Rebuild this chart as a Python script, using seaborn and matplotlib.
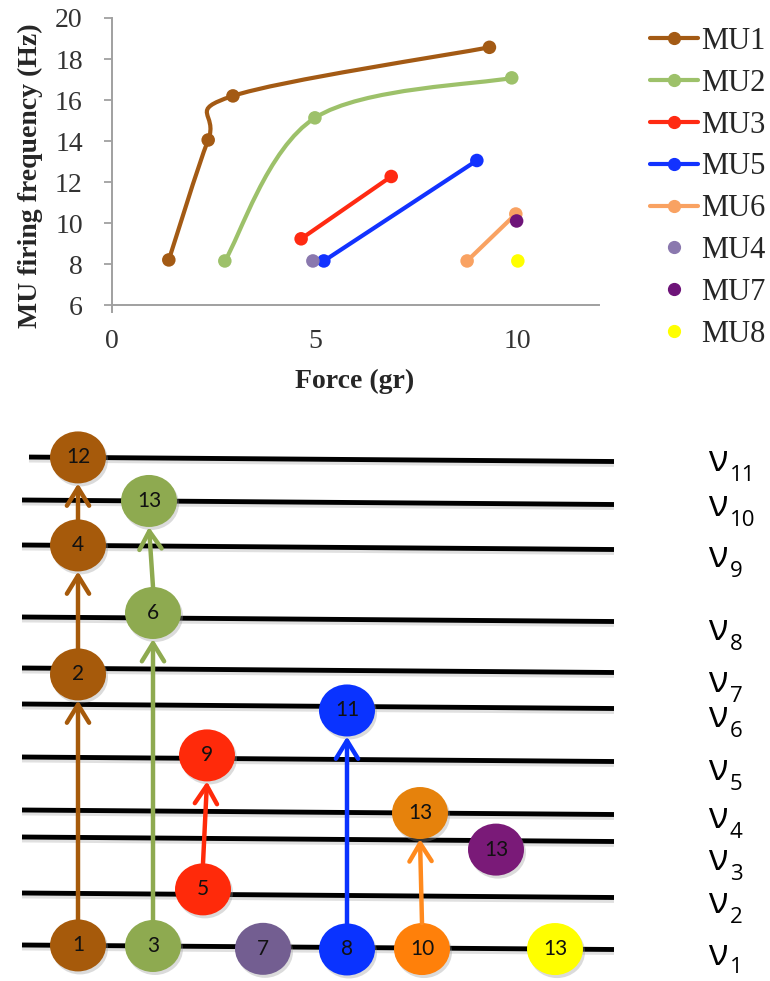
import numpy as np
import pandas as pd
import matplotlib
matplotlib.use('Agg')
import matplotlib.pyplot as plt
import seaborn as sns
from matplotlib.path import Path
from matplotlib.patches import PathPatch, Ellipse, FancyArrowPatch
from matplotlib.lines import Line2D

# ---------------- data: top chart ----------------
series_names = ['MU1', 'MU2', 'MU3', 'MU5', 'MU6', 'MU4', 'MU7', 'MU8']
mu1_force = [1.4, 2.37, 2.98, 9.3]
mu1_freq = [8.2, 14.05, 16.2, 18.57]
mu2_force = [2.78, 5.0, 9.85]
mu2_freq = [8.15, 15.13, 17.08]
mu3_force = [4.66, 6.88]
mu3_freq = [9.23, 12.27]
mu5_force = [5.22, 8.99]
mu5_freq = [8.15, 13.05]
mu6_force = [8.75, 9.95]
mu6_freq = [8.15, 10.44]
mu4_force = [4.95]
mu4_freq = [8.15]
mu7_force = [9.97]
mu7_freq = [10.1]
mu8_force = [10.0]
mu8_freq = [8.15]
x_ticks = [0, 5, 10]
y_ticks = [6, 8, 10, 12, 14, 16, 18, 20]

# ---------------- data: bottom diagram ----------------
level_names = ['1', '2', '3', '4', '5', '6', '7', '8', '9', '10', '11']
level_heights = [945, 893, 837, 810, 757, 704, 668, 617, 545, 500, 457]
node_labels = ['1', '2', '4', '12', '3', '6', '13', '5', '9', '7', '8', '11', '10', '13', '13', '13']
node_levels = [1, 7, 9, 11, 1, 8, 10, 2, 5, 1, 1, 6, 1, 4, 3, 1]
transitions = [(0, 1), (1, 2), (2, 3), (4, 5), (5, 6), (7, 8), (10, 11), (12, 13)]

# ---------------- styles / layout ----------------
chart_colors = {'MU1': '#A35A14', 'MU2': '#9DC16A', 'MU3': '#FF2A12', 'MU5': '#1232FF',
                'MU6': '#F9A262', 'MU4': '#8A78AE', 'MU7': '#6E1479', 'MU8': '#FFFF00'}
node_x = [78, 78, 78, 78, 153, 153, 149, 203, 207, 263, 347, 347, 422, 420, 496, 555]
node_dy = [0, 6, 0, 0, 0, -5, 0, -5, -3, 2, 2, 4, 1, 0, 9, 0]
node_colors = ['#A65A0B'] * 4 + ['#8EAA50'] * 3 + ['#FF2A0A'] * 2 + ['#735E91'] + \
              ['#0A33FF'] * 2 + ['#FF800A', '#E6820C'] + ['#7A1A78'] + ['#FFFF00']
arrow_colors = ['#A65A0B', '#A65A0B', '#A65A0B', '#8EAA50', '#8EAA50', '#FF2A0A', '#0A33FF', '#FF8A1E']
label_baseline = [965, 913, 870, 828, 780, 727, 692, 640, 567, 516, 471]
sub_drop = [8, 10, 10, 10, 10, 10, 10, 10, 10, 10, 10]
line_x0, line_x1, slope = 22, 614, 4.5

sns.set_style('white')
plt.rcParams['font.family'] = ['Liberation Serif', 'DejaVu Serif']
plt.rcParams['xtick.major.pad'] = 17
plt.rcParams['ytick.major.pad'] = 15

W, H = 770, 981
fig = plt.figure(figsize=(W / 100, H / 100), dpi=100)

# ================= top chart =================
ax = fig.add_axes([112 / W, 1 - 312 / H, 487 / W, 294 / H])

pts = pd.DataFrame({
    'series': ['MU1'] * 4 + ['MU2'] * 3 + ['MU3'] * 2 + ['MU5'] * 2 + ['MU6'] * 2 + ['MU4', 'MU7', 'MU8'],
    'force': mu1_force + mu2_force + mu3_force + mu5_force + mu6_force + mu4_force + mu7_force + mu8_force,
    'freq': mu1_freq + mu2_freq + mu3_freq + mu5_freq + mu6_freq + mu4_freq + mu7_freq + mu8_freq,
})

lines_df = pts[pts['series'].isin(['MU3', 'MU5', 'MU6'])]
sns.lineplot(data=lines_df, x='force', y='freq', hue='series', palette=chart_colors,
             lw=3.0, legend=False, sort=False, estimator=None, ax=ax, zorder=2)


def smooth_path(xs, ys):
    p = np.column_stack([xs, ys]).astype(float)
    n = len(p)
    verts = [p[0]]
    codes = [Path.MOVETO]
    for i in range(n - 1):
        p0 = p[i - 1] if i > 0 else p[i]
        p1, p2 = p[i], p[i + 1]
        p3 = p[i + 2] if i + 2 < n else p[i + 1]
        verts += [p1 + (p2 - p0) / 6, p2 - (p3 - p1) / 6, p2]
        codes += [Path.CURVE4] * 3
    return Path(verts, codes)


for name, xs, ys in [('MU1', mu1_force, mu1_freq), ('MU2', mu2_force, mu2_freq)]:
    ax.add_patch(PathPatch(smooth_path(xs, ys), facecolor='none', edgecolor=chart_colors[name],
                           lw=3.0, capstyle='round', zorder=2))

sns.scatterplot(data=pts, x='force', y='freq', hue='series', palette=chart_colors, s=95,
                edgecolor='none', legend=False, ax=ax, zorder=3)

ax.set_xlim(0, 12)
ax.set_ylim(5.66, 20)
ax.spines['bottom'].set_position(('data', 6))
ax.set_xticks(x_ticks)
ax.set_yticks(y_ticks)
ax.set_xlabel('')
ax.set_ylabel('')
for s in ['top', 'right']:
    ax.spines[s].set_visible(False)
for s in ['left', 'bottom']:
    ax.spines[s].set_color('#a0a0a0')
    ax.spines[s].set_linewidth(1.4)
ax.tick_params(axis='y', direction='out', length=6, width=1.3, color='#a0a0a0', pad=15,
               labelsize=20, labelcolor='#333333', left=True)
ax.xaxis.set_tick_params(which='major', length=0, pad=17, labelsize=20, labelcolor='#333333')
ax.grid(False)

fig.text(30 / W, 1 - 176 / H, 'MU firing frequency (Hz)', rotation=90, ha='center', va='center',
         fontsize=20, fontweight='bold')
fig.text(355 / W, 1 - 381 / H, 'Force (gr)', ha='center', va='center', fontsize=20, fontweight='bold')

handles = []
for name in series_names:
    if name in ['MU4', 'MU7', 'MU8']:
        handles.append(Line2D([], [], ls='none', marker='o', ms=8.5, color=chart_colors[name]))
    else:
        handles.append(Line2D([], [], lw=3.0, marker='o', ms=8.5, color=chart_colors[name]))
fig.legend(handles, series_names, loc='upper left', bbox_to_anchor=(650 / W, 1 - 27 / H),
           frameon=False, fontsize=22, labelspacing=0.42, handlelength=1.57, handletextpad=0.1,
           borderpad=0, borderaxespad=0)

# ================= bottom diagram =================
ax2 = fig.add_axes([0, 0, 1, (H - 430) / H])
ax2.set_xlim(0, W)
ax2.set_ylim(H, 430)
ax2.axis('off')


def line_y(level, x):
    return level_heights[level - 1] + slope * (x - line_x0) / (line_x1 - line_x0)


for i, yl in enumerate(level_heights):
    x0 = 29 if i == 10 else line_x0
    ys = [yl + slope * (x0 - line_x0) / (line_x1 - line_x0), yl + slope]
    ax2.plot([x0, line_x1], [ys[0] + 3, ys[1] + 3], color='#bbbbbb', lw=3.5, alpha=0.45,
             solid_capstyle='butt', zorder=1)
    ax2.plot([x0, line_x1], ys, color='black', lw=3.5, solid_capstyle='butt', zorder=1.5)

rx, ry = 28, 26
node_y = [line_y(l, x) + d for l, x, d in zip(node_levels, node_x, node_dy)]

for x, y, c, lab in zip(node_x, node_y, node_colors, node_labels):
    ax2.add_patch(Ellipse((x + 2, y + 3), 2 * rx, 2 * ry, facecolor='#999999', alpha=0.35,
                          edgecolor='none', zorder=2))
    ax2.add_patch(Ellipse((x, y), 2 * rx, 2 * ry, facecolor=c, edgecolor='none', zorder=3))
    ax2.text(x, y, lab, ha='center', va='center', fontsize=15, family=['Lato', 'DejaVu Sans'],
             color='#111111', zorder=5)

for (a, b), c in zip(transitions, arrow_colors):
    start = (node_x[a], node_y[a] - ry)
    end = (node_x[b], node_y[b] + ry)
    ax2.add_patch(FancyArrowPatch(start, end, arrowstyle='->,head_length=1.3,head_width=0.8',
                                  mutation_scale=10, color=c, lw=3.2, shrinkA=0, shrinkB=0,
                                  zorder=4))

for name, yb, dd in zip(level_names, label_baseline, sub_drop):
    ax2.text(708, yb, 'ν', fontsize=26, family=['Open Sans', 'DejaVu Sans'], ha='left',
             va='baseline', color='black')
    ax2.text(730, yb + dd, name, fontsize=16, family=['Open Sans', 'DejaVu Sans'], ha='left',
             va='baseline', color='black')

fig.savefig('out.png', dpi=100)
